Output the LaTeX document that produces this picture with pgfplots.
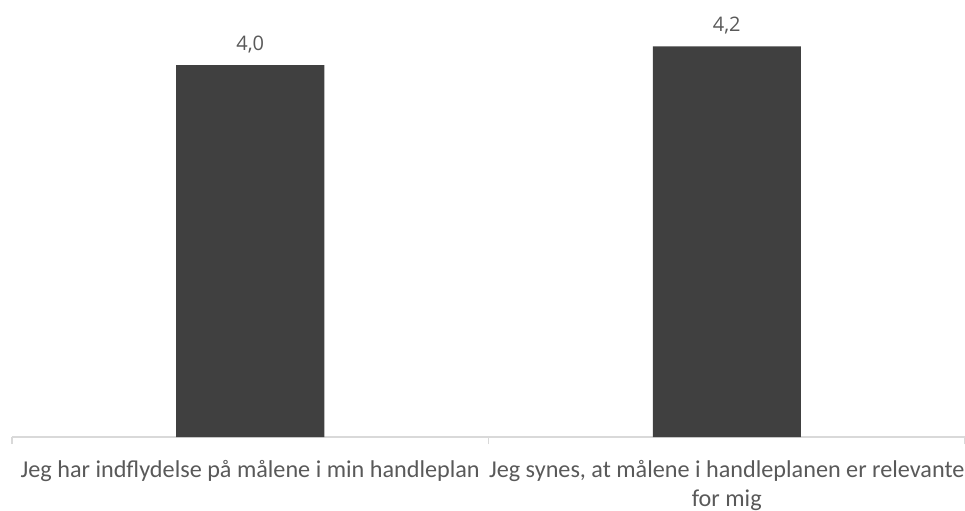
\documentclass[border=0pt]{standalone}
\usepackage{pgfplots}
\pgfplotsset{compat=1.18}
\usepackage{fontspec}
\setmainfont{Carlito}
\newfontfamily\valfont{Open Sans}
\definecolor{barcol}{HTML}{404040}
\definecolor{txtcol}{HTML}{595959}
\definecolor{axcol}{HTML}{D9D9D9}

\begin{document}
\begin{tikzpicture}[x=1pt,y=1pt]
\begin{axis}[
    at={(0pt,0pt)}, anchor=south west,
    scale only axis,
    width=476.5pt, height=209.25pt,
    xmin=-0.5, xmax=1.5,
    ymin=0, ymax=4.5,
    axis y line=none,
    axis x line*=bottom,
    x axis line style={draw=axcol, line width=0.6pt},
    xtick={-0.5,0.5,1.5},
    x tick label as interval,
    xticklabels={Jeg har indflydelse på målene i min handleplan,{Jeg synes, at målene i handleplanen er relevante\\for mig}},
    x tick label style={font=\fontsize{12.1}{14.5}\selectfont, text=txtcol, align=center, yshift=-4.5pt},
    x tick style={draw=axcol, line width=0.6pt},
    tick align=outside,
    major tick length=3.5pt,
    ybar, bar width=74pt,
    nodes near coords,
    nodes near coords style={font=\valfont\fontsize{10}{12}\selectfont, text=txtcol, yshift=2.5pt},
    /pgf/number format/fixed,
    /pgf/number format/fixed zerofill,
    /pgf/number format/precision=1,
    /pgf/number format/use comma,
    /pgf/number format/assume math mode=true,
    clip=false,
]
\addplot[fill=barcol, draw=none] coordinates {(0,4.0) (1,4.2)};
\end{axis}
\pgfresetboundingbox
\path (-6pt,-36.5pt) rectangle (476.5pt,218.5pt);
\end{tikzpicture}
\end{document}
